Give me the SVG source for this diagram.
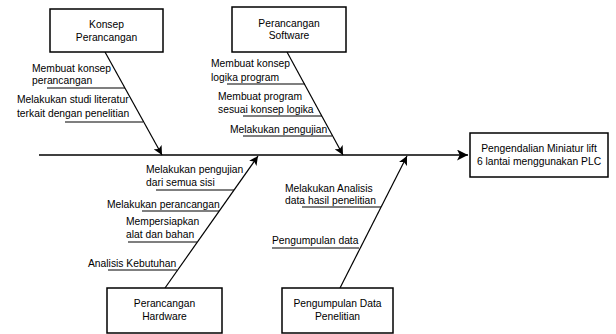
<svg xmlns="http://www.w3.org/2000/svg" width="616" height="334" viewBox="0 0 616 334">
<style>
.box{fill:#fff;stroke:#000;stroke-width:1.5}
.ln{stroke:#000;stroke-width:1.2;fill:none}
.main{stroke:#000;stroke-width:1.6;fill:none}
text{font-family:"Liberation Sans",Arial,sans-serif;font-size:10.3px;fill:#000}
.c{text-anchor:middle}
</style>
<defs>
<marker id="ah" viewBox="0 0 10 10" refX="10" refY="5" markerWidth="9" markerHeight="9" markerUnits="userSpaceOnUse" orient="auto">
<path d="M0,0 L10,5 L0,10 L2.5,5 z" fill="#000"/>
</marker>
<marker id="ahm" viewBox="0 0 10 10" refX="10" refY="5" markerWidth="11" markerHeight="11" markerUnits="userSpaceOnUse" orient="auto">
<path d="M0,0 L10,5 L0,10 L2.5,5 z" fill="#000"/>
</marker>
</defs>
<rect width="616" height="334" fill="#fff"/>
<g id="connectors">
<line class="main" x1="39" y1="155" x2="468" y2="155" marker-end="url(#ahm)"/>
<line class="ln" x1="105" y1="52" x2="162" y2="155" marker-end="url(#ah)"/>
<line class="ln" x1="287" y1="52" x2="343" y2="155" marker-end="url(#ah)"/>
<line class="ln" x1="165" y1="288" x2="258" y2="156" marker-end="url(#ah)"/>
<line class="ln" x1="340" y1="288" x2="407" y2="156" marker-end="url(#ah)"/>
<line class="ln" x1="47" y1="88" x2="125" y2="88"/>
<line class="ln" x1="65" y1="122" x2="143" y2="122"/>
<line class="ln" x1="227" y1="84" x2="305" y2="84"/>
<line class="ln" x1="243" y1="116" x2="322" y2="116"/>
<line class="ln" x1="243" y1="136" x2="332" y2="136"/>
<line class="ln" x1="156" y1="190" x2="234" y2="190"/>
<line class="ln" x1="142" y1="211" x2="219" y2="211"/>
<line class="ln" x1="128" y1="242" x2="197" y2="242"/>
<line class="ln" x1="108" y1="270" x2="177" y2="270"/>
<line class="ln" x1="302" y1="207" x2="381" y2="207"/>
<line class="ln" x1="272" y1="248" x2="359" y2="248"/>
</g>
<g id="konsep">
<rect class="box" x="50" y="9" width="113" height="43"/>
<text class="c" x="106.5" y="28">Konsep</text>
<text class="c" x="106.5" y="41">Perancangan</text>
</g>
<g id="software">
<rect class="box" x="232" y="7" width="114" height="45"/>
<text class="c" x="289" y="27">Perancangan</text>
<text class="c" x="289" y="39">Software</text>
</g>
<g id="hardware">
<rect class="box" x="107" y="288" width="115" height="45"/>
<text class="c" x="164.5" y="307">Perancangan</text>
<text class="c" x="164.5" y="320">Hardware</text>
</g>
<g id="data">
<rect class="box" x="282" y="288" width="111" height="45"/>
<text class="c" x="337.5" y="307">Pengumpulan Data</text>
<text class="c" x="337.5" y="320">Penelitian</text>
</g>
<g id="effect">
<rect class="box" x="470" y="133" width="138" height="44"/>
<text class="c" x="539" y="152">Pengendalian Miniatur lift</text>
<text class="c" x="539" y="165">6 lantai menggunakan PLC</text>
</g>
<g id="causes">
<text x="32" y="72">Membuat konsep</text>
<text x="32" y="84">perancangan</text>
<text x="17" y="103">Melakukan studi literatur</text>
<text x="17" y="117">terkait dengan penelitian</text>
<text x="211" y="67">Membuat konsep</text>
<text x="211" y="81">logika program</text>
<text x="218" y="100">Membuat program</text>
<text x="218" y="113">sesuai konsep logika</text>
<text x="230" y="133">Melakukan pengujian</text>
<text x="146" y="173">Melakukan pengujian</text>
<text x="146" y="186">dari semua sisi</text>
<text x="107" y="208">Melakukan perancangan</text>
<text x="126" y="225">Mempersiapkan</text>
<text x="126" y="238">alat dan bahan</text>
<text x="88" y="267">Analisis Kebutuhan</text>
<text x="285" y="192">Melakukan Analisis</text>
<text x="285" y="204">data hasil penelitian</text>
<text x="272" y="244">Pengumpulan data</text>
</g>
</svg>
